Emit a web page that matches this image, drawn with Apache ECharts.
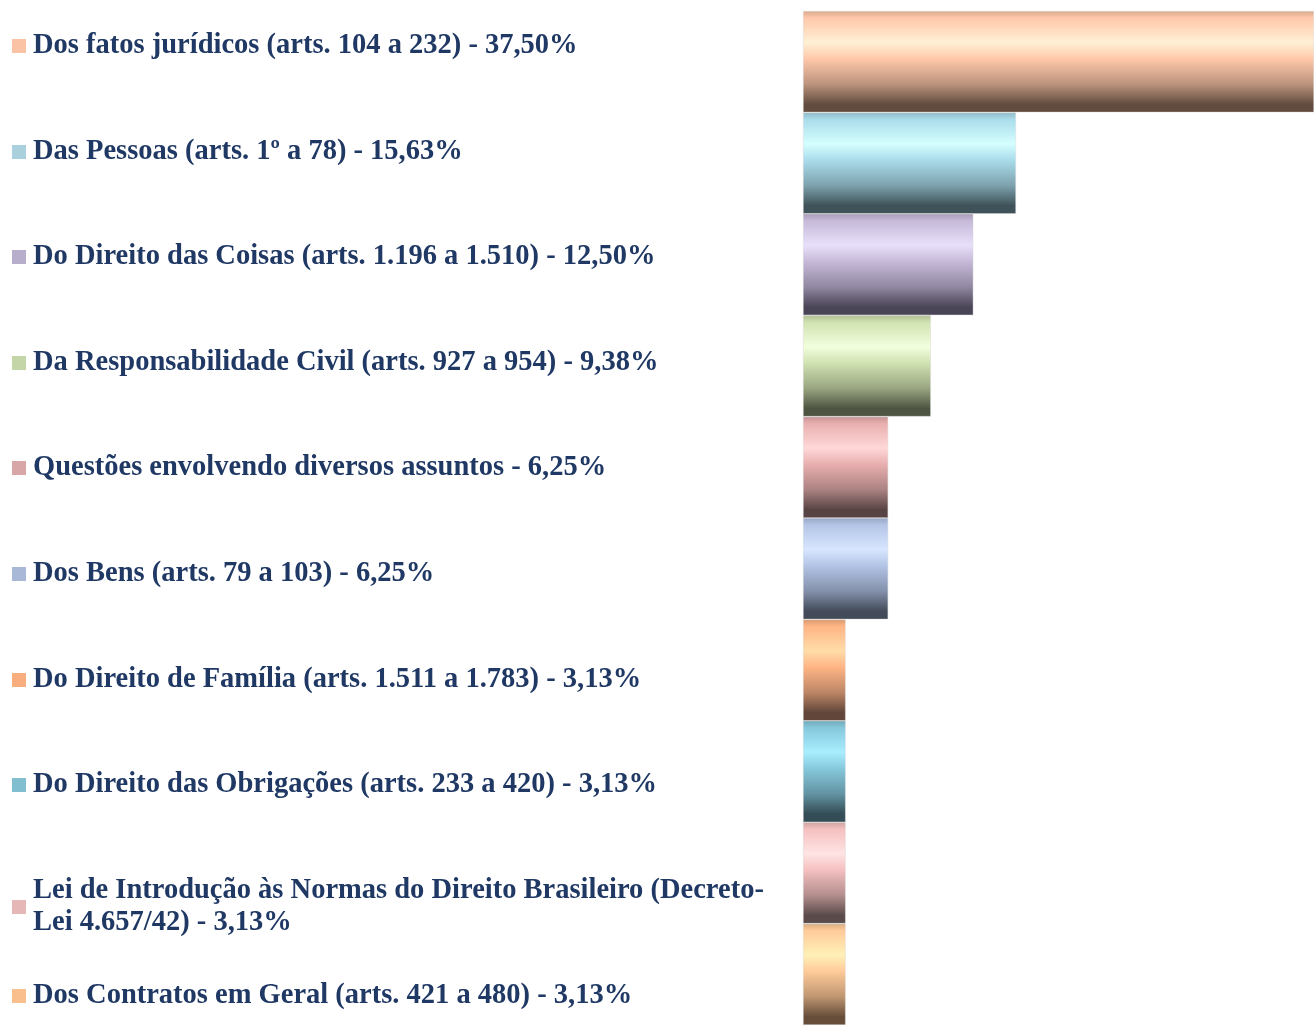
<!DOCTYPE html>
<html><head><meta charset="utf-8">
<script src="https://cdn.jsdelivr.net/npm/echarts@6/dist/echarts.min.js"></script>
<style>html,body{margin:0;padding:0;background:#fff}#c{width:1314px;height:1025px}</style>
</head><body><div id="c"></div>
<script>
// ---- data ----
const categories = [
  'Dos fatos jurídicos (arts. 104 a 232) - 37,50%',
  'Das Pessoas (arts. 1º a 78) - 15,63%',
  'Do Direito das Coisas (arts. 1.196 a 1.510) - 12,50%',
  'Da Responsabilidade Civil (arts. 927 a 954) - 9,38%',
  'Questões envolvendo diversos assuntos - 6,25%',
  'Dos Bens (arts. 79 a 103) - 6,25%',
  'Do Direito de Família (arts. 1.511 a 1.783) - 3,13%',
  'Do Direito das Obrigações (arts. 233 a 420) - 3,13%',
  'Lei de Introdução às Normas do Direito Brasileiro (Decreto-\nLei 4.657/42) - 3,13%',
  'Dos Contratos em Geral (arts. 421 a 480) - 3,13%'
];
const values = [37.50, 15.63, 12.50, 9.38, 6.25, 6.25, 3.13, 3.13, 3.13, 3.13];

// ---- styles ----
const legendColors = ['#FAC3A5','#A9D0DC','#B7AECB','#C4D5A7','#D8A6A6','#A8B8D6','#F9AE7E','#80BED0','#E6B7B7','#F9C08E'];
const baseColors   = ['#FFC8AA','#AADCEB','#C6B9D9','#D1E2B1','#E9AFAF','#B3C4E6','#FFB585','#86C8DC','#F5C0C0','#FFCB99'];
const lightColors  = ['#FFF0D5','#D5FFFF','#E8E0FA','#F2FFDE','#FFD8D8','#D8E6FF','#FFDCA8','#A8EEFF','#FFE4E4','#FFF0B8'];
const darkColors   = ['#624C3F','#3F5259','#4A4556','#4D5441','#574343','#434B5A','#62463A','#334C55','#5A4A4A','#664D3A'];

function mix(a, b, t) {
  const pa = [1,3,5].map(i => parseInt(a.substr(i,2),16));
  const pb = [1,3,5].map(i => parseInt(b.substr(i,2),16));
  return 'rgb(' + pa.map((v,i) => Math.round(v + (pb[i]-v)*t)).join(',') + ')';
}
function grad(i) {
  const b = baseColors[i], l = lightColors[i], d = darkColors[i];
  return new echarts.graphic.LinearGradient(0,0,0,1,[
    {offset:0, color: mix(b, d, 0.25)},
    {offset:0.07, color: b},
    {offset:0.31, color: l},
    {offset:0.47, color: b},
    {offset:0.72, color: mix(b, d, 0.42)},
    {offset:0.92, color: d},
    {offset:1, color: d}
  ]);
}

const chart = echarts.init(document.getElementById('c'), null, {renderer:'canvas'});
const series = categories.map((name, i) => ({
  name: name,
  type: 'bar',
  barGap: '-100%',
  barCategoryGap: 0,
  data: values.map((v, j) => j === i ? v : '-'),
  itemStyle: { color: grad(i), borderColor: 'rgba(215,215,215,0.7)', borderWidth: 0.6 },
  emphasis: { disabled: true },
  animation: false
}));

const legends = categories.map((name, i) => ({
  orient: 'vertical',
  left: 12,
  top: Math.round(44 + i * 105.6 - 14),
  padding: 0,
  itemWidth: 14,
  itemHeight: 14,
  icon: 'rect',
  selectedMode: false,
  itemStyle: { borderWidth: 0 },
  textStyle: {
    fontFamily: '"Liberation Serif", "DejaVu Serif", serif',
    fontWeight: 'bold',
    fontSize: 28.5,
    lineHeight: 32,
    color: '#1F3864',
    padding: [0, 0, 0, 2]
  },
  itemGap: 0,
  data: [{ name: name, itemStyle: { color: legendColors[i], borderWidth: 0 } }]
}));

chart.setOption({
  animation: false,
  grid: { left: 803, right: 0, top: 11, height: 1020 },
  xAxis: { type: 'value', min: 0, max: 37.5, show: false },
  yAxis: { type: 'category', data: categories, inverse: true, show: false },
  legend: legends,
  series: series
});
</script>
</body></html>
